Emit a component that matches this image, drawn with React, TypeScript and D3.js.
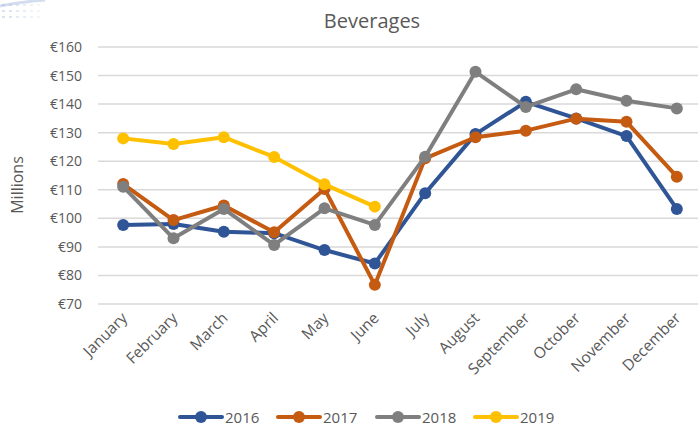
import * as React from 'react';
import * as d3 from 'd3';

const months = ['January', 'February', 'March', 'April', 'May', 'June', 'July', 'August', 'September', 'October', 'November', 'December'];
const yTicks = [70, 80, 90, 100, 110, 120, 130, 140, 150, 160];

const sales2016 = [97.7, 98, 95.3, 94.8, 88.9, 84.2, 108.8, 129.5, 140.8, 135, 128.8, 103.3];
const sales2017 = [112, 99.4, 104.5, 95.1, 110.3, 76.7, 121, 128.4, 130.7, 134.9, 133.8, 114.6];
const sales2018 = [111.1, 93, 103.3, 90.7, 103.5, 97.7, 121.6, 151.3, 139, 145.2, 141.2, 138.5];
const sales2019 = [128, 126, 128.4, 121.5, 111.9, 104.1];

const series = [
  {name: '2016', values: sales2016, color: '#2f5597'},
  {name: '2017', values: sales2017, color: '#c55a11'},
  {name: '2018', values: sales2018, color: '#7f7f7f'},
  {name: '2019', values: sales2019, color: '#ffc000'},
];

const font = 'Open Sans, Liberation Sans, sans-serif';

export default function App() {
  const width = 698;
  const height = 428;
  const left = 98;
  const right = 702;

  const x = d3.scalePoint<string>().domain(months).range([left, right]).padding(0.5);
  const y = d3.scaleLinear().domain([70, 160]).range([304, 47]);

  const line = d3.line<number>()
    .x((d, i) => x(months[i]) as number)
    .y(d => y(d));

  const legendX = [180, 278, 377, 475];

  return (
    <svg width={width} height={height} style={{position: 'absolute', left: 0, top: 0}}>
      <rect width={width} height={height} fill="#fff" />
      {d3.range(0, 6).map(c => d3.range(0, 3).map(r => (
        <rect key={`d${c}-${r}`} x={2 + c * 7} y={4 + r * 6} width={3} height={2} fill="#8fa6d6" opacity={0.35 - c * 0.05} />
      )))}
      <path d="M0,6 Q20,2 45,0" fill="none" stroke="#aab9e0" strokeWidth={3} opacity={0.5} />
      <text x={372} y={28} textAnchor="middle" fontFamily={font} fontSize={20} fill="#595959">Beverages</text>
      <text transform="translate(23,185) rotate(-90)" textAnchor="middle" fontFamily={font} fontSize={16} fill="#595959">Millions</text>
      {yTicks.map(t => (
        <g key={t}>
          <line x1={left} x2={698} y1={y(t)} y2={y(t)} stroke="#d9d9d9" strokeWidth={1.5} />
          <text x={82} y={y(t) + 5} textAnchor="end" fontFamily={font} fontSize={14} fill="#595959">€{t}</text>
        </g>
      ))}
      {months.map(m => (
        <text key={m} transform={`translate(${(x(m) as number) + 5},${319}) rotate(-45)`} textAnchor="end"
          fontFamily={font} fontSize={15.5} fill="#595959">{m}</text>
      ))}
      {series.map(s => (
        <g key={s.name}>
          <path d={line(s.values) || ''} fill="none" stroke={s.color} strokeWidth={4} strokeLinejoin="round" />
          {s.values.map((v, i) => (
            <circle key={i} cx={x(months[i]) as number} cy={y(v)} r={6} fill={s.color} />
          ))}
        </g>
      ))}
      {series.map((s, i) => (
        <g key={s.name} transform={`translate(${legendX[i]},417)`}>
          <line x1={0} x2={42} y1={0} y2={0} stroke={s.color} strokeWidth={4} strokeLinecap="round" />
          <circle cx={21} cy={0} r={6} fill={s.color} />
          <text x={45} y={5.5} fontFamily={font} fontSize={15} fill="#595959">{s.name}</text>
        </g>
      ))}
    </svg>
  );
}
